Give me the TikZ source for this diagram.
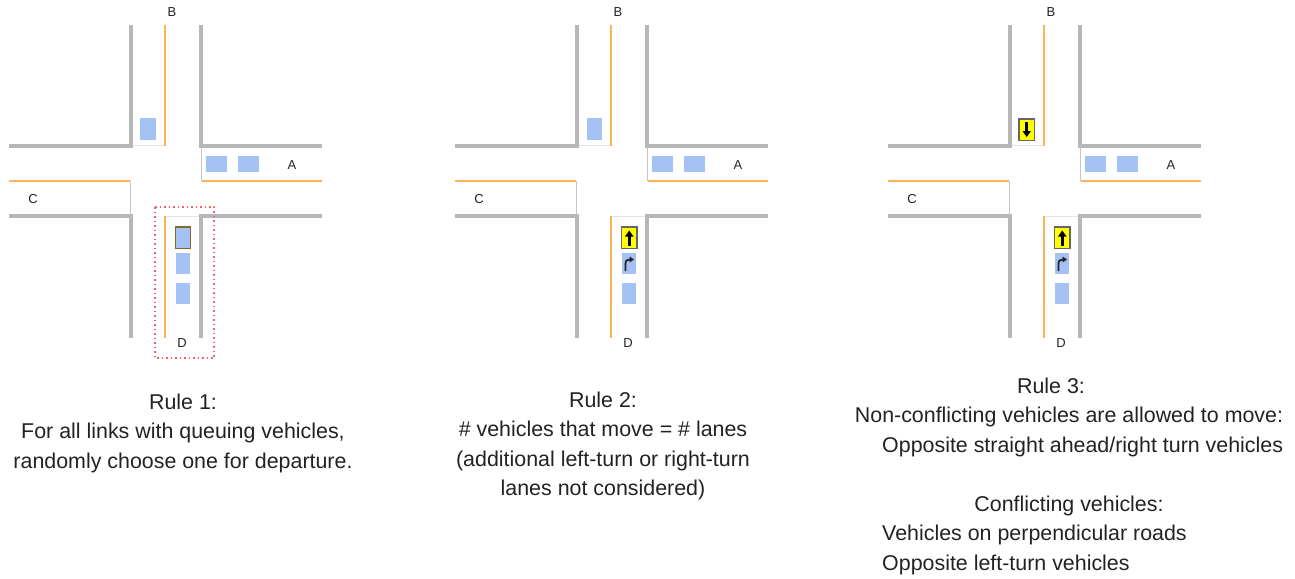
\documentclass[tikz,border=0pt]{standalone}
\usepackage{fontspec}
\setmainfont{Liberation Sans}
\definecolor{roadgray}{HTML}{B7B7B7}
\definecolor{laneorange}{HTML}{F9B458}
\definecolor{carblue}{HTML}{A4C2F4}
\definecolor{stopgray}{HTML}{E4E4E4}
\definecolor{selbrown}{HTML}{7F6A2E}
\definecolor{signyellow}{HTML}{FFFF00}
\definecolor{boxred}{HTML}{F2606C}
\definecolor{textblack}{HTML}{222222}
\tikzset{
  road/.style={draw=roadgray,line width=3.4pt,line join=miter},
  lane/.style={draw=laneorange,line width=2.6pt},
  stopline/.style={draw=stopgray,line width=1.4pt},
  edgeline/.style={draw=roadgray!80,line width=1pt},
  car/.style={fill=carblue,draw=none},
  selected/.style={fill=carblue,draw=selbrown,line width=1.8pt},
  moving/.style={fill=signyellow,draw=black!60,line width=1.6pt},
  arrowshaft/.style={draw=black,line width=3.2pt},
  turnarrow/.style={draw=black!85,line width=1.8pt},
  roadlabel/.style={font=\fontsize{13}{15}\selectfont,text=textblack,inner sep=0pt,anchor=center},
  rule/.style={font=\fontsize{21.4}{25}\selectfont,text=textblack,inner sep=0pt,anchor=base},
  ruleleft/.style={rule,anchor=base west},
}
\newcommand{\crossing}{%
  \draw[road] (9,146) -- (131,146) -- (131,25);
  \draw[road] (322,146) -- (201,146) -- (201,25);
  \draw[road] (9,216) -- (131,216) -- (131,338);
  \draw[road] (322,216) -- (201,216) -- (201,338);
  \draw[lane] (165,25) -- (165,146);
  \draw[lane] (165,216) -- (165,338);
  \draw[lane] (9,181) -- (130,181);
  \draw[lane] (202,181) -- (322,181);
  \draw[stopline] (133,145.5) -- (164,145.5);
  \draw[stopline] (166,216.5) -- (199,216.5);
  \draw[edgeline] (201.5,147) -- (201.5,181);
  \draw[edgeline] (130.5,181) -- (130.5,215);
  \fill[car] (206,156) rectangle (227,172);
  \fill[car] (238,156) rectangle (259,172);
  \fill[car] (176,283) rectangle (190,304);
}
\newcommand{\downcar}[2]{%
  \draw[moving] (#1,#2) rectangle ++(15.5,21.5);
  \draw[arrowshaft] (#1+7.75,#2+3) -- (#1+7.75,#2+13);
  \fill[black] (#1+3.5,#2+12) -- (#1+12,#2+12) -- (#1+7.75,#2+18) -- cycle;
}
\newcommand{\upcar}[2]{%
  \draw[moving] (#1,#2) rectangle ++(15.5,21.5);
  \draw[arrowshaft] (#1+7.75,#2+18.5) -- (#1+7.75,#2+8.5);
  \fill[black] (#1+3.5,#2+9.5) -- (#1+12,#2+9.5) -- (#1+7.75,#2+3.5) -- cycle;
}
\newcommand{\turncar}{%
  \fill[car] (176,253) rectangle (190,274);
  \draw[turnarrow] (179.5,271) -- (179.5,264) .. controls (179.5,260.5) and (181,259.5) .. (184,259.5);
  \fill[black!85] (183.5,256.5) -- (188,259.5) -- (183.5,262.5) -- cycle;
}
\begin{document}
\begin{tikzpicture}[x=1pt,y=-1pt]
\useasboundingbox (0,0) rectangle (1295,578);
% Panel 1
\begin{scope}
  \crossing
  \fill[car] (140,118) rectangle (156,140);
  \draw[selected] (175.5,227) rectangle (190.5,248.5);
  \fill[car] (176,253) rectangle (190,274);
  \draw[draw=boxred,line width=1.2pt,dash pattern=on 1.5pt off 3pt] (155,207) rectangle (214,358);
  \node[roadlabel] (b1) at (172,12) {B};
  \node[roadlabel] (a1) at (292,165) {A};
  \node[roadlabel] (c1) at (33,199) {C};
  \node[roadlabel] (d1) at (182,343) {D};
\end{scope}
% Panel 2
\begin{scope}[xshift=446pt]
  \crossing
  \fill[car] (141,118) rectangle (156,140);
  \upcar{175.5}{227}
  \turncar
  \node[roadlabel] (b2) at (172,12) {B};
  \node[roadlabel] (a2) at (292,165) {A};
  \node[roadlabel] (c2) at (33,199) {C};
  \node[roadlabel] (d2) at (182,343) {D};
\end{scope}
% Panel 3
\begin{scope}[xshift=879pt]
  \crossing
  \downcar{140}{119}
  \upcar{175.5}{227}
  \turncar
  \node[roadlabel] (b3) at (172,12) {B};
  \node[roadlabel] (a3) at (292,165) {A};
  \node[roadlabel] (c3) at (33,199) {C};
  \node[roadlabel] (d3) at (182,343) {D};
\end{scope}
% Captions
\node[rule] (r1a) at (183,409) {Rule 1:};
\node[rule] (r1b) at (183,438) {For all links with queuing vehicles,};
\node[rule] (r1c) at (183,468) {randomly choose one for departure.};
\node[rule] (r2a) at (603,407) {Rule 2:};
\node[rule] (r2b) at (603,436) {\# vehicles that move = \# lanes};
\node[rule] (r2c) at (603,466) {(additional left-turn or right-turn};
\node[rule] (r2d) at (603,495) {lanes not considered)};
\node[rule] (r3a) at (1051,393) {Rule 3:};
\node[rule] (r3b) at (1069,422) {Non-conflicting vehicles are allowed to move:};
\node[ruleleft] (r3c) at (882,452) {Opposite straight ahead/right turn vehicles};
\node[rule] (r3d) at (1069,511) {Conflicting vehicles:};
\node[ruleleft] (r3e) at (882,540) {Vehicles on perpendicular roads};
\node[ruleleft] (r3f) at (882,570) {Opposite left-turn vehicles};
\end{tikzpicture}
\end{document}
